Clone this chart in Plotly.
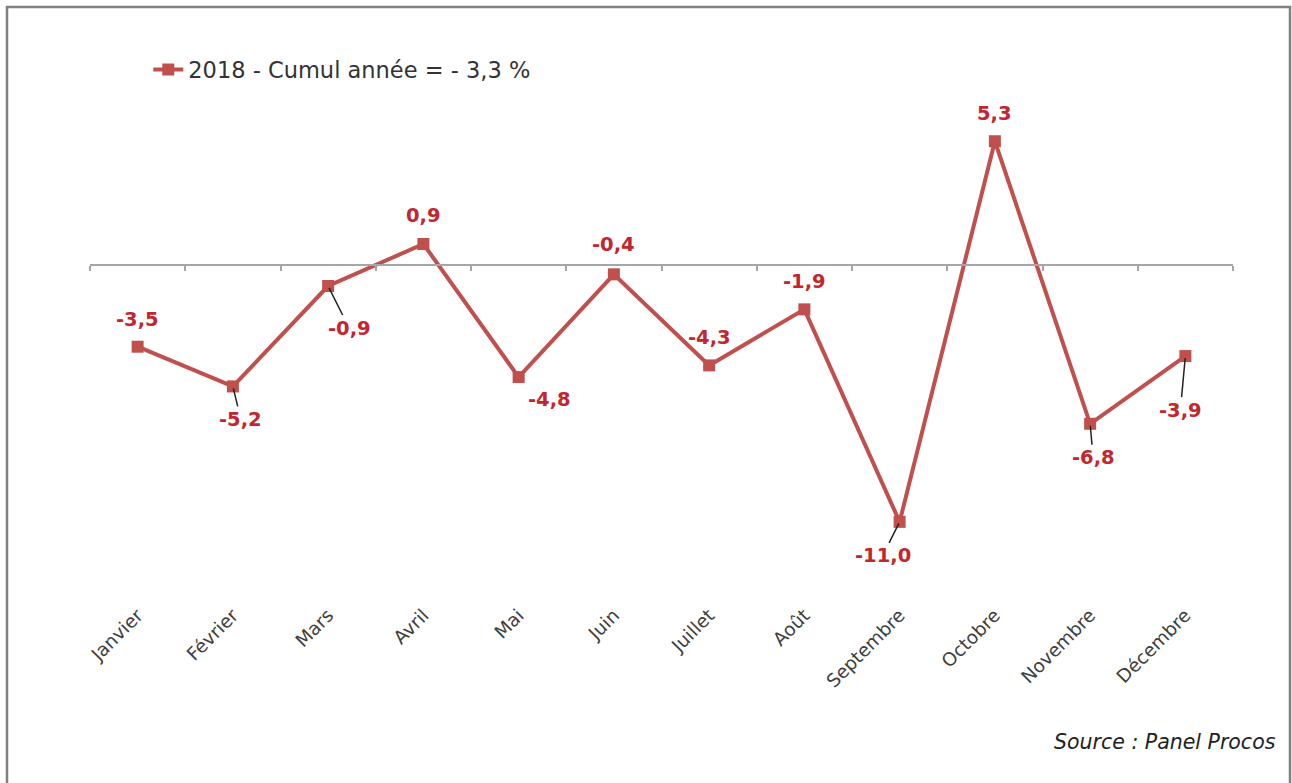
import plotly.graph_objects as go

months = ["Janvier", "Février", "Mars", "Avril", "Mai", "Juin", "Juillet",
          "Août", "Septembre", "Octobre", "Novembre", "Décembre"]
values_2018 = [-3.5, -5.2, -0.9, 0.9, -4.8, -0.4, -4.3, -1.9, -11.0, 5.3, -6.8, -3.9]
series_name = "2018 - Cumul année = - 3,3 %"
source_text = "Source : Panel Procos"

# label placement (pixel offsets of label centre relative to point) and leader flag
label_dx = [0, 8, 21, 0, 31, 0, 0, 0, -17, 0, 3, -5]
label_dy = [-27, 33, 42, -28, 22, -30, -28, -28, 34, -28, 34, 54]
leader = [False, True, True, False, False, False, False, False, True, False, True, True]

RED = "#C0504D"
LABEL_RED = "#C4262E"
FONT = "DejaVu Sans"

x_idx = list(range(len(months)))

H = 783
top_px, bot_px = 40, 592
zero_px = 265
ppu = 23.35
y_top = (zero_px - top_px) / ppu
y_bot = -(bot_px - zero_px) / ppu
zero_frac = (bot_px - zero_px) / (bot_px - top_px)

fig = go.Figure()
fig.add_trace(go.Scatter(
    x=x_idx, y=values_2018, mode="lines+markers", name=series_name,
    line=dict(color=RED, width=4),
    marker=dict(symbol="square", size=12, color=RED),
))
# invisible trace to activate the zero-line axis
fig.add_trace(go.Scatter(
    x=x_idx, y=values_2018, xaxis="x2", yaxis="y", mode="markers",
    marker=dict(opacity=0), showlegend=False, hoverinfo="skip",
))

for i, (xv, yv) in enumerate(zip(x_idx, values_2018)):
    txt = f"{yv:.1f}".replace(".", ",")
    if leader[i]:
        fig.add_annotation(
            x=xv, y=yv, text=f"<b>{txt}</b>", showarrow=True,
            ax=label_dx[i], ay=label_dy[i], arrowhead=0, arrowwidth=1.5,
            arrowcolor="#222222", standoff=2,
            font=dict(family=FONT, size=19.5, color=LABEL_RED),
        )
    else:
        fig.add_annotation(
            x=xv, y=yv, text=f"<b>{txt}</b>", showarrow=False,
            xshift=label_dx[i], yshift=-label_dy[i],
            font=dict(family=FONT, size=19.5, color=LABEL_RED),
        )

fig.add_annotation(
    xref="paper", yref="paper", x=1.039, y=-0.272, xanchor="right", yanchor="middle",
    text=f"<i>{source_text}</i>", showarrow=False,
    font=dict(family=FONT, size=20.5, color="#222222"),
)

fig.update_layout(
    width=1292, height=H,
    margin=dict(l=90, r=59, t=top_px, b=H - bot_px),
    paper_bgcolor="white", plot_bgcolor="white",
    font=dict(family=FONT, color="#404040"),
    showlegend=True,
    legend=dict(x=0.051, y=0.985, xanchor="left", yanchor="top",
                font=dict(family=FONT, size=22.5, color="#333333"),
                bgcolor="rgba(0,0,0,0)"),
    xaxis=dict(range=[-0.5, 11.5], tickmode="array", tickvals=x_idx, ticktext=months,
               tickangle=-45, showgrid=False, zeroline=False, showline=False, ticks="",
               ticklabelstandoff=8,
               tickfont=dict(family=FONT, size=18.5, color="#404040")),
    xaxis2=dict(range=[-0.5, 11.5], overlaying="x", anchor="free", position=zero_frac,
                showline=True, linecolor="#A6A6A6", linewidth=1.5,
                ticks="outside", ticklen=5, tickwidth=1.5, tickcolor="#A6A6A6",
                tickmode="array", tickvals=[v - 0.5 for v in range(len(months) + 1)],
                showticklabels=False, showgrid=False, zeroline=False),
    yaxis=dict(range=[y_bot, y_top], visible=False, showgrid=False, zeroline=False),
)
# outer border of the picture
fig.add_shape(type="rect", xref="paper", yref="paper",
              x0=(7 - 90) / 1143, x1=(1290 - 90) / 1143,
              y0=(bot_px - 800) / (bot_px - top_px), y1=(bot_px - 7) / (bot_px - top_px),
              line=dict(color="#808080", width=2.5), fillcolor="rgba(0,0,0,0)")

fig.write_html("out.html")
